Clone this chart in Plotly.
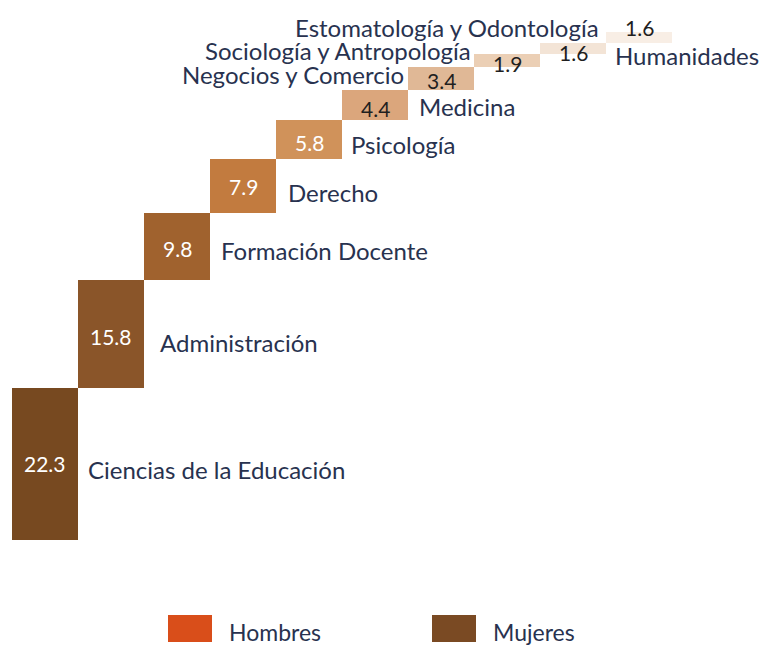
import plotly.graph_objects as go

# share of graduates by field (%), ordered from largest to smallest
carreras = [
    "Ciencias de la Educación",
    "Administración",
    "Formación Docente",
    "Derecho",
    "Psicología",
    "Medicina",
    "Negocios y Comercio",
    "Sociología y Antropología",
    "Humanidades",
    "Estomatología y Odontología",
]
porcentajes = [22.3, 15.8, 9.8, 7.9, 5.8, 4.4, 3.4, 1.9, 1.6, 1.6]
leyenda = ["Hombres", "Mujeres"]

colores = ["#774920", "#8a5529", "#a0622e", "#c27b3f", "#d0925a",
           "#dba67c", "#e0b896", "#ebcfb5", "#f3e4d6", "#f8eee5"]
color_leyenda = ["#d94e1a", "#7a4a23"]
texto = "#28324f"
fuente = "Lato"

W, H = 764, 638      # page body adds an 8px margin
PX_X = 66            # px per bar
PX_Y = 6.82          # px per percentage point
X0, Y0 = 4, 532      # pixel of left edge of first bar / baseline

# stairs: every bar starts where the previous one ends
bases = []
acum = 0
for v in porcentajes:
    bases.append(acum)
    acum += v
xs = list(range(len(porcentajes)))

fig = go.Figure()
fig.add_trace(go.Bar(
    x=xs,
    y=porcentajes,
    base=bases,
    width=1,
    marker=dict(color=colores, line=dict(width=0)),
    showlegend=False,
    hoverinfo="skip",
))

# where each category name sits: (side, dx in px, dy in px)
pos_nombre = {
    0: ("right", 9, -6),
    1: ("right", 15, -8),
    2: ("right", 10, -4),
    3: ("right", 11, -6),
    4: ("right", 8, -5),
    5: ("right", 10, -2),
    6: ("left", -3, 4),
    7: ("left", -2, 10),
    8: ("right", 8, -7),
    9: ("left", -6, 10),
}
# shift of the value label inside its bar (px)
dy_valor = {0: 0, 1: -2, 2: -2, 3: 0, 4: -3, 5: -4, 6: -2, 7: -3, 8: -4, 9: 10}

for i, (nombre, v, b) in enumerate(zip(carreras, porcentajes, bases)):
    lado, dx, dy = pos_nombre[i]
    fig.add_annotation(
        x=i + 0.5 if lado == "right" else i - 0.5,
        y=b + v / 2,
        text=nombre,
        showarrow=False,
        xanchor="left" if lado == "right" else "right",
        yanchor="middle",
        xshift=dx,
        yshift=dy,
        borderpad=0,
        font=dict(family=fuente, size=24, color=texto),
    )
    fig.add_annotation(
        x=i,
        y=b + v / 2,
        text=f"{v:.1f}",
        showarrow=False,
        xanchor="center",
        yanchor="middle",
        yshift=dy_valor[i],
        borderpad=0,
        font=dict(family=fuente, size=21,
                  color="white" if i < 5 else "#1f1f1f"),
    )

# legend drawn as swatches at the bottom
leg_x = [160, 424]
for nombre, c, x0 in zip(leyenda, color_leyenda, leg_x):
    fig.add_shape(type="rect", xref="paper", yref="paper",
                  x0=x0 / W, x1=(x0 + 44) / W,
                  y0=1 - 634 / H, y1=1 - 607 / H,
                  fillcolor=c, line=dict(width=0))
    fig.add_annotation(xref="paper", yref="paper",
                       x=(x0 + 60) / W, y=1 - 624 / H,
                       text=nombre, showarrow=False,
                       xanchor="left", yanchor="middle",
                       borderpad=0,
                       font=dict(family=fuente, size=23, color=texto))

fig.update_xaxes(visible=False,
                 range=[-0.5 - X0 / PX_X, -0.5 + (W - X0) / PX_X])
fig.update_yaxes(visible=False,
                 range=[-(H - Y0) / PX_Y, Y0 / PX_Y])
fig.update_layout(
    width=W,
    height=H,
    margin=dict(l=0, r=0, t=0, b=0),
    paper_bgcolor="white",
    plot_bgcolor="white",
    bargap=0,
)

fig.write_html("out.html")
